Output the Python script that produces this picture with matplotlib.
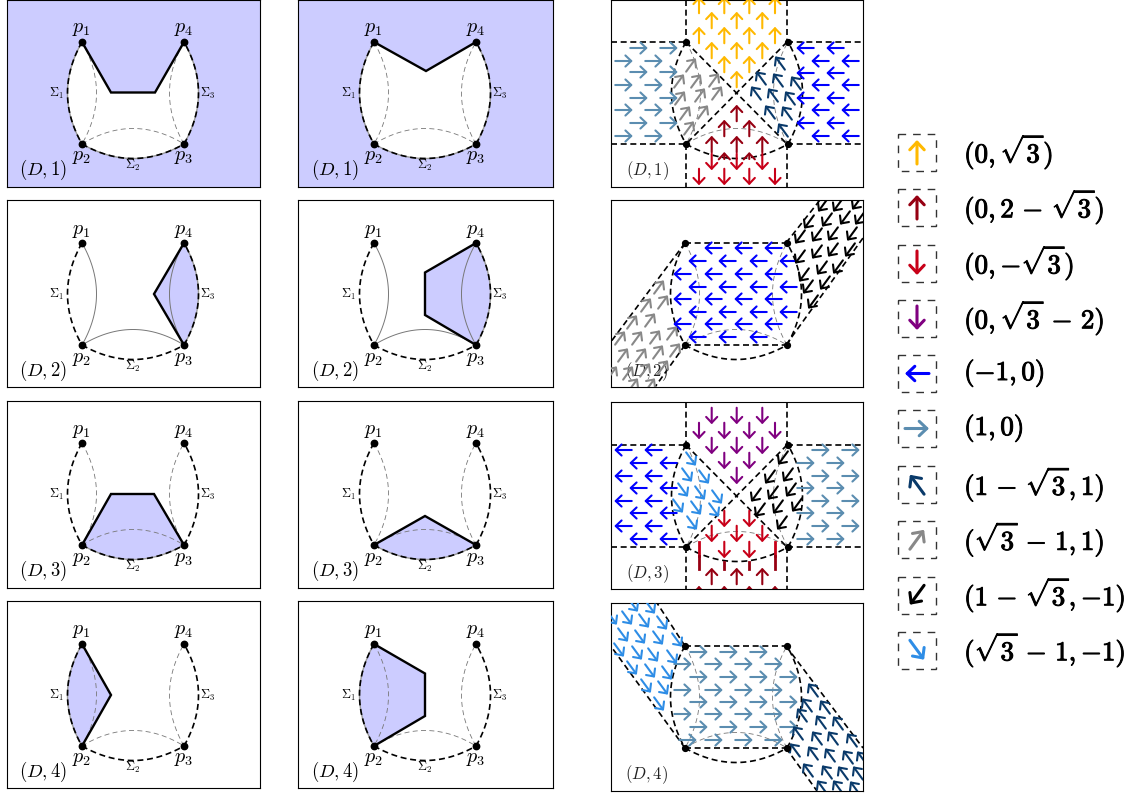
import numpy as np
import matplotlib
matplotlib.use('Agg')
import matplotlib.pyplot as plt
import matplotlib.patheffects as pe
from matplotlib.patches import FancyArrowPatch, Polygon, Rectangle

plt.rcParams['mathtext.fontset'] = 'cm'

W, H = 1134, 794
FILL = '#CCCCFF'

# panel frames, in picture pixels
COL_X = [(7, 260), (298, 553), (611, 863)]
ROW_Y = [(0, 187), (200, 387), (401, 588), (601, 788)]
ROW_Y3 = [(0, 187), (200, 387), (402, 589), (603, 791)]

# top left corner p1 of the square p1 p4 p3 p2
P1_X = [82, 374]
P1_Y = [42, 243, 443, 644]
P1_X3 = [686, 685, 686, 685]
P1_Y3 = [42, 243, 445, 646]
SIDE = 102

# thick boundary vertices, offset from p1
NOTCH = {
    (0, 0): [(29, 50.5), (73, 50.5)],
    (1, 0): [(52, 29)],
    (0, 1): [(72, 51)],
    (1, 1): [(51, 29.5), (51, 72)],
    (0, 2): [(29, 51), (72, 51)],
    (1, 2): [(51, 73)],
    (0, 3): [(29, 51)],
    (1, 3): [(51, 29.5), (51, 72)],
}

# arrow directions, in field units (x right, y up)
S3 = 3 ** 0.5
DIRS = {
    'yellow': (0, 1), 'darkred': (0, 1), 'red': (0, -1), 'purple': (0, -1),
    'blue': (-1, 0), 'teal': (1, 0), 'navy': (1 - S3, 1), 'gray': (S3 - 1, 1),
    'black': (1 - S3, -1), 'sky': (S3 - 1, -1),
}
COLORS = {
    'yellow': '#FFB900', 'darkred': '#960012', 'red': '#C80018', 'purple': '#800080',
    'blue': '#0000FF', 'teal': '#5B8DB0', 'navy': '#0A3A6A', 'gray': '#888888',
    'black': '#000000', 'sky': '#2E8DE6',
}

# legend
MINUS = r'\hspace{0.15}-\hspace{0.15}'
LEG_KEYS = ['yellow', 'darkred', 'red', 'purple', 'blue', 'teal', 'navy', 'gray', 'black', 'sky']
LEG_Y = [152, 207, 263, 318, 373.5, 428.5, 484.5, 539.5, 595, 650]
LEG_TEXT = [
    r'$(\mathbf{0},\sqrt{\mathbf{3}})$',
    r'$(\mathbf{0},\mathbf{2}' + MINUS + r'\sqrt{\mathbf{3}})$',
    r'$(\mathbf{0},{-}\sqrt{\mathbf{3}})$',
    r'$(\mathbf{0},\sqrt{\mathbf{3}}' + MINUS + r'\mathbf{2})$',
    r'$({-}\mathbf{1},\mathbf{0})$',
    r'$(\mathbf{1},\mathbf{0})$',
    r'$(\mathbf{1}' + MINUS + r'\sqrt{\mathbf{3}},\mathbf{1})$',
    r'$(\sqrt{\mathbf{3}}' + MINUS + r'\mathbf{1},\mathbf{1})$',
    r'$(\mathbf{1}' + MINUS + r'\sqrt{\mathbf{3}},{-}\mathbf{1})$',
    r'$(\sqrt{\mathbf{3}}' + MINUS + r'\mathbf{1},{-}\mathbf{1})$',
]

# arrow centres: (y, [x, ...]) rows
XA = [699, 724.3, 749.3, 775]
XB = [711.7, 736.7, 762.3]

FIELD_1 = [
    ('yellow', [(5, XA), (20, XB), (35, XA), (50, XB), (64, XA[1:3]), (79, [736.7])]),
    ('darkred', [(113, [736.7]), (128, XA[1:3]), (144, XB)]),
    ('red', [(162, XB), (177, XA)]),
    ('teal', [(48, [639, 669]), (61, [624, 654]), (72, [639, 669]), (85, [624, 654]),
              (98, [639, 669]), (110, [624, 654]), (123, [639, 669]), (136, [624, 654])]),
    ('blue', [(48, [805, 835]), (61, [820, 850]), (73, [805, 835]), (85, [820, 850]),
              (98, [805, 835]), (110, [820, 850]), (123, [805, 835]), (136, [820, 850])]),
    ('gray', [(65, [691]), (81, [679, 696]), (80, [714]), (98, [680]), (95, [700]), (93, [717]),
              (113, [685]), (112, [703]), (128, [689])]),
    ('navy', [(63, [780]), (78, [761]), (80, [778]), (83, [796]), (93, [756]), (95, [773]),
              (98, [790]), (112, [770]), (113, [787]), (130, [783])]),
]
FIELD_2 = [
    ('blue', [(248, [713, 743, 773]), (261, [697, 727, 758, 788]), (274, [682, 713, 743, 773]),
              (287, [697, 727, 758, 788]), (299, [682, 713, 743, 773]), (312, [697, 727, 758, 788]),
              (324, [682, 713, 743, 773]), (337, [697, 727, 758])]),
    ('black', [(205, [823, 838]), (203, [857]), (222, [809]), (220, [827]), (218, [845, 860]),
               (237, [800]), (235, [817]), (234, [833, 852]), (257, [800]), (252, [817]),
               (250, [833, 850]), (275, [804]), (268, [822]), (267, [838]), (287, [808]),
               (283, [825]), (302, [813])]),
    ('gray', [(287, [659]), (305, [646]), (302, [663]), (322, [632]), (320, [650]),
              (338, [620]), (338, [637]), (337, [655]), (333, [672]), (355, [623, 641]),
              (352, [658]), (350, [675]), (373, [628]), (370, [645]), (367, [663]),
              (373, [612]), (385, [633, 650])]),
]
FIELD_3 = [
    ('purple', [(416, XB), (431, XA), (446, XB), (461, XA[1:3]), (476, [736.7])]),
    ('blue', [(450, [623, 653]), (463, [638, 668]), (476, [623, 653]), (488, [638, 668]),
              (501, [623, 653]), (513, [638, 668]), (526, [623, 653]), (539, [638, 668])]),
    ('teal', [(450, [821, 851]), (463, [806, 836]), (476, [821, 851]), (488, [806, 836]),
              (501, [821, 851]), (513, [806, 836]), (526, [821, 851]), (539, [806, 836])]),
    ('sky', [(459, [691]), (475, [687]), (477, [704]), (490, [683]), (493, [700]), (497, [717]),
             (506, [678]), (508, [696]), (510, [714]), (523, [692])]),
    ('black', [(458, [783]), (477, [770]), (475, [788]), (495, [756]), (493, [773]), (490, [791]),
               (510, [760]), (507, [778]), (505, [797]), (523, [782])]),
    ('red', [(519, XA[1:3]), (534, XB), (550, XA[1:3])]),
    ('darkred', [(576, XB), (594, XA)]),
]
FIELD_4 = [
    ('teal', [(652, [699, 729, 759]), (664, [683, 714, 744, 774]), (677, [699, 729, 759, 789]),
              (690, [683, 714, 744, 774]), (702, [699, 729, 759, 789]), (714, [683, 714, 744, 774]),
              (727, [699, 729, 759, 789]), (740, [688, 714, 744, 774])]),
    ('sky', [(605, [633]), (607, [650]), (618, [612, 627]), (621, [644]), (623, [662]),
             (635, [623]), (637, [640]), (638, [658]), (640, [677]), (650, [619]), (653, [637]),
             (655, [653]), (657, [672]), (668, [632]), (671, [650]), (673, [667]), (686, [646]),
             (688, [663]), (704, [659])]),
    ('navy', [(690, [813]), (705, [807]), (707, [825]), (715, [802]), (722, [821]), (723, [838]),
              (733, [798]), (738, [817]), (738, [833]), (740, [852]), (750, [795]), (753, [813]),
              (755, [830]), (757, [848]), (758, [862]), (770, [808]), (772, [827]), (773, [843]),
              (773, [858]), (787, [822]), (787, [838]), (788, [855])]),
]
FIELDS = [FIELD_1, FIELD_2, FIELD_3, FIELD_4]

# arrows cut short by the field below them: row, key, x, y, length
SHORT_HEADS = [(0, 'darkred', 724.3, 155.5, 7), (0, 'darkred', 749.3, 155.5, 7)]
# bare tails in row 3: key, x, y0, y1
TAILS_3 = [
    ('red', 699, 542, 556), ('red', 775, 542, 556),
    ('darkred', 699, 556, 569), ('darkred', 775, 556, 569),
    ('darkred', 724.3, 562, 569), ('darkred', 749.3, 562, 569),
]

# dashed band walls of column 3: two end points per wall
WALLS = [
    [((611, 42), (686, 42)), ((611, 144), (686, 144)), ((787, 42), (863, 42)), ((787, 144), (863, 144)),
     ((686, 0), (686, 42)), ((787, 0), (787, 42)), ((686, 144), (686, 187)), ((787, 144), (787, 187)),
     ((686, 42), (787, 144)), ((787, 42), (686, 144))],
    [((685, 243), (786, 243)), ((685, 345), (786, 345)), ((685, 243), (610, 343)), ((685, 345), (655, 387)),
     ((786, 243), (820, 200)), ((786, 345), (863, 238))],
    [((611, 445), (686, 445)), ((611, 547), (686, 547)), ((787, 445), (863, 445)), ((787, 547), (863, 547)),
     ((686, 402), (686, 445)), ((787, 402), (787, 445)), ((686, 547), (686, 589)), ((787, 547), (787, 589)),
     ((686, 445), (787, 547)), ((787, 445), (686, 547))],
    [((685, 646), (786, 646)), ((685, 748), (786, 748)), ((685, 646), (657, 603)), ((685, 748), (610, 645)),
     ((786, 646), (863, 748)), ((786, 748), (817, 791))],
]

BULGE = 14.5
DASH = (0, (3.6, 2.2))


def arc(a, b, bulge):
    # bowed curve from a to b, positive bulge goes out of the square
    a = np.array(a, float)
    b = np.array(b, float)
    t = np.linspace(0, 1, 60)
    d = b - a
    n = np.array([-d[1], d[0]]) / np.hypot(*d)
    return a + np.outer(t, d) + np.outer(4 * t * (1 - t) * bulge, n)


def corners(x, y):
    return (x, y), (x, y + SIDE), (x + SIDE, y + SIDE), (x + SIDE, y)


def draw_curves(ax, x, y, inner_solid=False, gray_out=None):
    p1, p2, p3, p4 = corners(x, y)
    outer = [arc(p1, p2, BULGE), arc(p2, p3, BULGE), arc(p3, p4, BULGE)]
    inner = [arc(p1, p2, -BULGE), arc(p2, p3, -BULGE - 1), arc(p3, p4, -BULGE)]
    for c in inner:
        if inner_solid:
            ax.plot(c[:, 0], c[:, 1], color='#777777', lw=0.7, zorder=3)
        else:
            ax.plot(c[:, 0], c[:, 1], color='#777777', lw=0.6, ls=(0, (6, 4)), zorder=3)
    for i, c in enumerate(outer):
        if gray_out is not None and i in gray_out:
            ax.plot(c[:, 0], c[:, 1], color='#999999', lw=1.0, zorder=3)
        ax.plot(c[:, 0], c[:, 1], color='black', lw=1.2, ls=DASH, zorder=3)


def arrow(ax, cx, cy, key, length=16.5, lw=1.5, ms=10, z=5):
    dx, dy = DIRS[key]
    n = np.hypot(dx, dy)
    ux, uy = dx / n * length / 2, -dy / n * length / 2
    ax.add_patch(FancyArrowPatch((cx - ux, cy - uy), (cx + ux, cy + uy),
                                 arrowstyle='->,head_length=0.42,head_width=0.4',
                                 mutation_scale=ms, lw=lw, color=COLORS[key],
                                 shrinkA=0, shrinkB=0, zorder=z))


fig = plt.figure(figsize=(W / 100, H / 100), dpi=100)


def panel(box_x, box_y):
    l, r = box_x
    t, b = box_y
    ax = fig.add_axes([l / W, 1 - b / H, (r - l) / W, (b - t) / H])
    ax.set_xlim(l, r)
    ax.set_ylim(b, t)
    ax.set_xticks([])
    ax.set_yticks([])
    for s in ax.spines.values():
        s.set_linewidth(0.8)
    return ax


# columns 1 and 2: the regions
for col in range(2):
    for row in range(4):
        ax = panel(COL_X[col], ROW_Y[row])
        x, y = P1_X[col], P1_Y[row]
        p1, p2, p3, p4 = corners(x, y)
        notch = [(x + a, y + b) for a, b in NOTCH[(col, row)]]
        o1, o2, o3 = arc(p1, p2, BULGE), arc(p2, p3, BULGE), arc(p3, p4, BULGE)
        if row == 0:
            ax.set_facecolor(FILL)
            ax.add_patch(Polygon(np.vstack([[p1], o1, o2, o3, [p4], notch[::-1]]),
                                 fc='white', ec='none', zorder=1))
            thick = [p1] + notch + [p4]
            gray = [0, 1, 2]
        elif row == 1:
            ax.add_patch(Polygon(np.vstack([o3, notch]), fc=FILL, ec='none', zorder=1))
            thick = [p4] + notch + [p3]
            gray = [2]
        elif row == 2:
            ax.add_patch(Polygon(np.vstack([o2, notch[::-1]]), fc=FILL, ec='none', zorder=1))
            thick = [p2] + notch + [p3]
            gray = [1]
        else:
            ax.add_patch(Polygon(np.vstack([o1, notch[::-1]]), fc=FILL, ec='none', zorder=1))
            thick = [p1] + notch + [p2]
            gray = [0]
        draw_curves(ax, x, y, inner_solid=(row == 1), gray_out=gray)
        ax.plot([q[0] for q in thick], [q[1] for q in thick], color='black', lw=1.7,
                solid_joinstyle='miter', zorder=4)
        ax.plot([p1[0], p2[0], p3[0], p4[0]], [p1[1], p2[1], p3[1], p4[1]], ls='none',
                marker='o', ms=4.6, color='black', zorder=6)
        ax.text(x - 1, y - 13, r'$p_1$', fontsize=14.5, ha='center', va='center', zorder=7)
        ax.text(x + SIDE, y - 13, r'$p_4$', fontsize=14.5, ha='center', va='center', zorder=7)
        ax.text(x, y + SIDE + 13, r'$p_2$', fontsize=14.5, ha='center', va='center', zorder=7)
        ax.text(x + SIDE, y + SIDE + 13, r'$p_3$', fontsize=14.5, ha='center', va='center', zorder=7)
        ax.text(x - 25, y + 51, r'$\Sigma_1$', fontsize=9, ha='center', va='center', zorder=7)
        ax.text(x + 51, y + SIDE + 21, r'$\Sigma_2$', fontsize=9, ha='center', va='center', zorder=7)
        ax.text(x + 126, y + 51, r'$\Sigma_3$', fontsize=9, ha='center', va='center', zorder=7)
        ax.text(x - 39, y + 128, r'$(D,%d)$' % (row + 1), fontsize=13.5, ha='center', va='center', zorder=7)

# column 3: the vector fields
for row in range(4):
    ax = panel(COL_X[2], ROW_Y3[row])
    x, y = P1_X3[row], P1_Y3[row]
    draw_curves(ax, x, y)
    for a, b in WALLS[row]:
        ax.plot([a[0], b[0]], [a[1], b[1]], color='black', lw=1.2, ls=DASH, zorder=3)
    p1, p2, p3, p4 = corners(x, y)
    ax.plot([p1[0], p2[0], p3[0], p4[0]], [p1[1], p2[1], p3[1], p4[1]], ls='none',
            marker='o', ms=4.2, color='black', zorder=6)
    ax.text(x - 38, y + 129, r'$(D,%d)$' % (row + 1), fontsize=12, color='#222222',
            ha='center', va='center', zorder=4)
    for r, key, hx, hy, ln in SHORT_HEADS:
        if r == row:
            arrow(ax, hx, hy, key, length=ln)
    for key, rows in FIELDS[row]:
        ln = 17.5 if key in ('teal', 'blue') else 16.5
        for cy, xs in rows:
            for cx in xs:
                arrow(ax, cx, cy, key, length=ln)
    if row == 2:
        for key, tx, y0, y1 in TAILS_3:
            ax.plot([tx, tx], [y0, y1], color=COLORS[key], lw=2.0, zorder=5)

# legend
leg = fig.add_axes([0, 0, 1, 1], facecolor='none')
leg.set_xlim(0, W)
leg.set_ylim(H, 0)
leg.axis('off')
for key, cy, label in zip(LEG_KEYS, LEG_Y, LEG_TEXT):
    leg.add_patch(Rectangle((898, cy - 18.5), 38, 37, fc='none', ec='#333333', lw=1.0,
                            ls=(0, (5.5, 5))))
    arrow(leg, 917, cy, key, length=24, lw=2.2, ms=13)
    t = leg.text(964, cy, label, fontsize=19.5, ha='left', va='center')
    t.set_path_effects([pe.withStroke(linewidth=0.7, foreground='black')])

fig.savefig('out.png', dpi=100)
